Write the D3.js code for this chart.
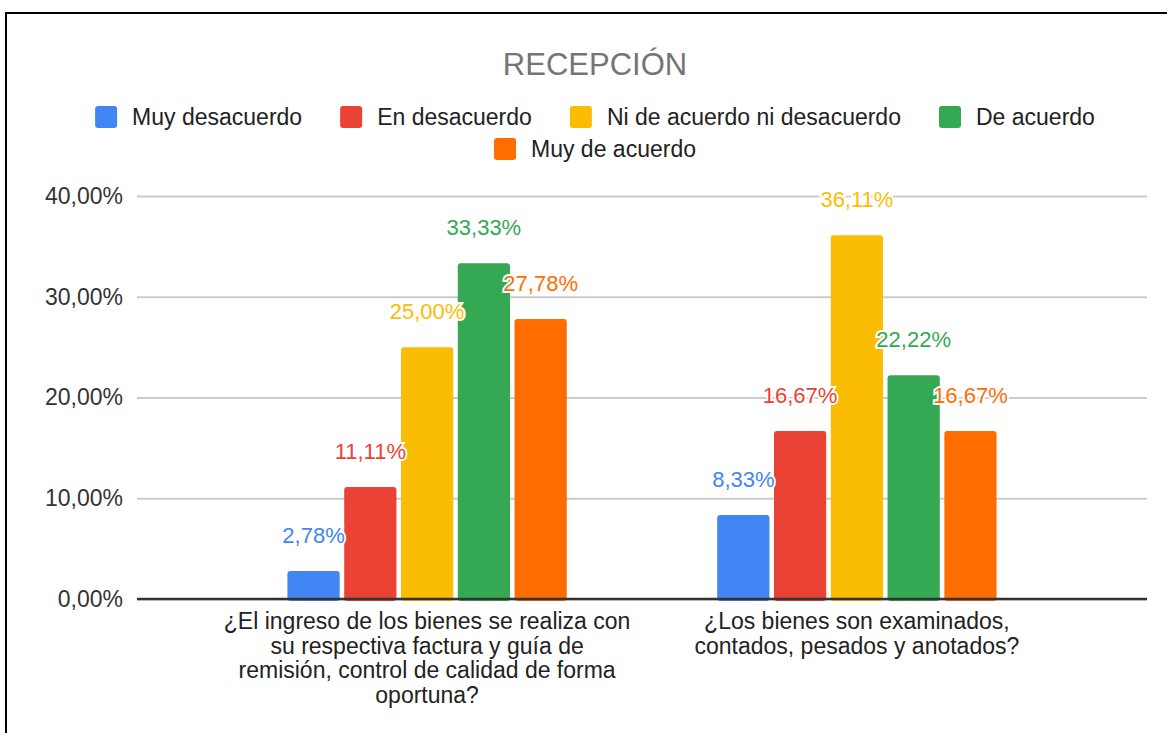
<!DOCTYPE html>
<html>
<head>
<meta charset="utf-8">
<script src="https://cdn.jsdelivr.net/npm/d3@7"></script>
<style>
  body { margin: 0; background: #fff; }
  text { font-family: "Liberation Sans", Arial, sans-serif; }
</style>
</head>
<body>
<div id="chart"></div>
<script>
// Données du graphique
const titre = "RECEPCIÓN";
const series = ["Muy desacuerdo", "En desacuerdo", "Ni de acuerdo ni desacuerdo", "De acuerdo", "Muy de acuerdo"];
const couleurs = ["#4285f4", "#ea4335", "#fbbc04", "#34a853", "#ff6d01"];
const categories = [
  ["¿El ingreso de los bienes se realiza con", "su respectiva factura y guía de", "remisión, control de calidad de forma", "oportuna?"],
  ["¿Los bienes son examinados,", "contados, pesados y anotados?"]
];
// une ligne par catégorie, une valeur par série
const valeurs = [
  [0.0278, 0.1111, 0.2500, 0.3333, 0.2778],
  [0.0833, 0.1667, 0.3611, 0.2222, 0.1667]
];
const etiquettes = [
  ["2,78%", "11,11%", "25,00%", "33,33%", "27,78%"],
  ["8,33%", "16,67%", "36,11%", "22,22%", "16,67%"]
];
const ticksY = [0, 0.1, 0.2, 0.3, 0.4];

const width = 1167, height = 733;
const svg = d3.select("#chart").append("svg")
  .attr("width", width).attr("height", height);

// cadre
svg.append("rect")
  .attr("x", 6).attr("y", 13)
  .attr("width", 1180).attr("height", 740)
  .attr("fill", "#fff").attr("stroke", "#000").attr("stroke-width", 2);

const centre = 595;

svg.append("text")
  .attr("x", centre).attr("y", 75)
  .attr("text-anchor", "middle")
  .attr("font-size", 31)
  .attr("fill", "#757575")
  .text(titre);

// légende sur deux lignes, centrée
const fs = 23, carre = 22, gapTexte = 15, gapItem = 38, maxLargeur = 1020;
const mesure = svg.append("text").attr("font-size", fs).attr("visibility", "hidden");
const items = series.map((s, i) => {
  mesure.text(s);
  const w = mesure.node().getComputedTextLength();
  return { nom: s, couleur: couleurs[i], w: w, total: carre + gapTexte + w };
});
mesure.remove();
const lignes = [[]];
let courant = 0;
items.forEach(it => {
  const ajout = (lignes[lignes.length - 1].length ? gapItem : 0) + it.total;
  if (courant + ajout > maxLargeur && lignes[lignes.length - 1].length) {
    lignes.push([]);
    courant = it.total;
  } else {
    courant += ajout;
  }
  lignes[lignes.length - 1].push(it);
});
lignes.forEach((ligne, li) => {
  const tot = d3.sum(ligne, d => d.total) + gapItem * (ligne.length - 1);
  let x = centre - tot / 2;
  const cy = 117 + li * 32;
  ligne.forEach(it => {
    svg.append("rect")
      .attr("x", x).attr("y", cy - carre / 2)
      .attr("width", carre).attr("height", carre)
      .attr("rx", 3).attr("fill", it.couleur);
    svg.append("text")
      .attr("x", x + carre + gapTexte).attr("y", cy + 8)
      .attr("font-size", fs).attr("fill", "#222")
      .text(it.nom);
    x += it.total + gapItem;
  });
});

// échelles
const gauche = 137, droite = 1147, bas = 599, haut = 196;
const y = d3.scaleLinear().domain([0, 0.4]).range([bas, haut]);
const x0 = d3.scaleBand().domain(d3.range(categories.length))
  .range([gauche, droite]).paddingInner(0.35).paddingOuter(0.35);
const x1 = d3.scaleBand().domain(d3.range(series.length))
  .range([0, x0.bandwidth()]).paddingInner(0.08);

const fmt = v => d3.format(".2f")(v * 100).replace(".", ",") + "%";

// grille
const axeY = svg.append("g")
  .attr("transform", `translate(${gauche},0)`)
  .call(d3.axisLeft(y).tickValues(ticksY).tickSize(-(droite - gauche)).tickPadding(14).tickFormat(fmt));
axeY.select(".domain").remove();
axeY.selectAll(".tick line").attr("stroke", "#cccccc").attr("stroke-width", 2);
axeY.selectAll(".tick text")
  .attr("font-size", fs).attr("fill", "#333")
  .attr("font-family", "Liberation Sans, Arial, sans-serif");

// barres
const groupes = svg.append("g").selectAll("g")
  .data(valeurs).join("g")
  .attr("transform", (d, i) => `translate(${x0(i)},0)`);

groupes.selectAll("rect")
  .data(d => d).join("rect")
  .attr("x", (d, j) => x1(j))
  .attr("y", d => y(d))
  .attr("width", x1.bandwidth())
  .attr("height", d => bas - y(d) + 2)
  .attr("rx", 3)
  .attr("fill", (d, j) => couleurs[j]);

// ligne de base
svg.append("line")
  .attr("x1", gauche).attr("x2", droite)
  .attr("y1", y(0)).attr("y2", y(0))
  .attr("stroke", "#333").attr("stroke-width", 2.5);

// étiquettes des valeurs
groupes.each(function (d, i) {
  d3.select(this).selectAll("text.val")
    .data(d).join("text")
    .attr("class", "val")
    .attr("x", (v, j) => x1(j) + x1.bandwidth() / 2)
    .attr("y", v => y(v) - 28)
    .attr("text-anchor", "middle")
    .attr("font-size", 22)
    .attr("fill", (v, j) => couleurs[j])
    .attr("stroke", "#fff").attr("stroke-width", 4)
    .attr("paint-order", "stroke")
    .text((v, j) => etiquettes[i][j]);
});

// libellés des catégories
categories.forEach((lignesCat, i) => {
  const t = svg.append("text")
    .attr("text-anchor", "middle")
    .attr("font-size", fs).attr("fill", "#222");
  lignesCat.forEach((l, k) => {
    t.append("tspan")
      .attr("x", x0(i) + x0.bandwidth() / 2)
      .attr("y", 629 + k * 24.5)
      .text(l);
  });
});
</script>
</body>
</html>
